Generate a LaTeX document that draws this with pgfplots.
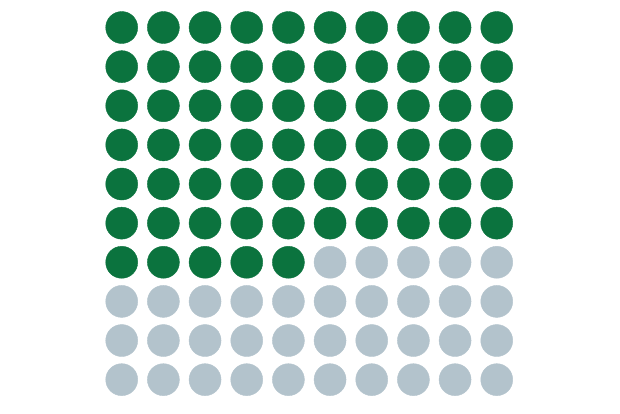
\documentclass[border=0pt]{standalone}
\usepackage{pgfplots}
\pgfplotsset{compat=1.18}
\definecolor{wgreen}{HTML}{0B733E}
\definecolor{wgrey}{HTML}{B3C3CC}

\begin{document}
\begin{tikzpicture}
\begin{axis}[
    scale only axis,
    width=620pt, height=413pt,
    xmin=-1.921, xmax=12.958,
    ymin=0.148, ymax=10.703,
    hide axis,
    clip=false,
]
\path (rel axis cs:0,0) rectangle (rel axis cs:1,1);
% 65 of 100
\addplot[only marks, mark=*, mark size=16pt, color=wgreen, mark options={draw=none, fill=wgreen}] coordinates {
(1,10) (2,10) (3,10) (4,10) (5,10) (6,10) (7,10) (8,10) (9,10) (10,10)
(1,9) (2,9) (3,9) (4,9) (5,9) (6,9) (7,9) (8,9) (9,9) (10,9)
(1,8) (2,8) (3,8) (4,8) (5,8) (6,8) (7,8) (8,8) (9,8) (10,8)
(1,7) (2,7) (3,7) (4,7) (5,7) (6,7) (7,7) (8,7) (9,7) (10,7)
(1,6) (2,6) (3,6) (4,6) (5,6) (6,6) (7,6) (8,6) (9,6) (10,6)
(1,5) (2,5) (3,5) (4,5) (5,5) (6,5) (7,5) (8,5) (9,5) (10,5)
(1,4) (2,4) (3,4) (4,4) (5,4)
};
% remaining 35
\addplot[only marks, mark=*, mark size=16pt, color=wgrey, mark options={draw=none, fill=wgrey}] coordinates {
(6,4) (7,4) (8,4) (9,4) (10,4)
(1,3) (2,3) (3,3) (4,3) (5,3) (6,3) (7,3) (8,3) (9,3) (10,3)
(1,2) (2,2) (3,2) (4,2) (5,2) (6,2) (7,2) (8,2) (9,2) (10,2)
(1,1) (2,1) (3,1) (4,1) (5,1) (6,1) (7,1) (8,1) (9,1) (10,1)
};
\end{axis}
\end{tikzpicture}
\end{document}
